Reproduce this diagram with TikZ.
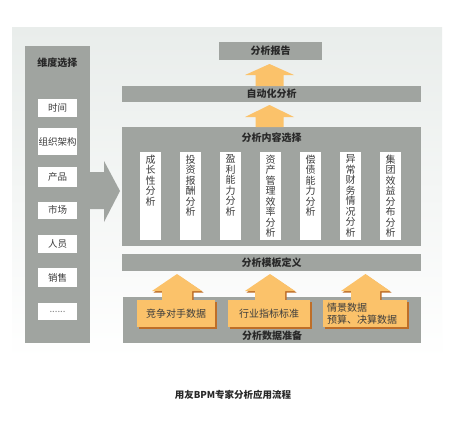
\documentclass[tikz,border=0pt]{standalone}
\usepackage{fontspec}
\setmainfont{Noto Sans CJK SC}
\definecolor{panelgray}{RGB}{160,164,160}
\definecolor{bgtop}{RGB}{233,237,235}
\definecolor{orangefill}{RGB}{251,194,106}
\definecolor{orangeedge}{RGB}{190,110,40}
\definecolor{txt}{RGB}{40,40,40}
\definecolor{coltxt}{RGB}{60,60,60}
\newcommand\myuparrow[7]{\fill[#7] (#1-#6,#4) -- (#1-#6,#3) -- (#1-#5,#3) -- (#1,#2) -- (#1+#5,#3) -- (#1+#6,#3) -- (#1+#6,#4) -- cycle;}
\begin{document}
\begin{tikzpicture}[x=1pt,y=-1pt,
  graybox/.style={fill=panelgray, draw=none, inner sep=0pt},
  whitebox/.style={fill=white, draw=none, inner sep=0pt, minimum width=39pt, text=coltxt, font=\fontsize{9.5}{10}\selectfont},
  titletext/.style={font=\bfseries\fontsize{10}{11}\selectfont, text=txt, inner sep=0pt},
  colbox/.style={fill=white, draw=none, inner sep=0pt, minimum width=21pt, minimum height=88pt},
  coltext/.style={font=\fontsize{10}{10.5}\selectfont, text=coltxt, align=center, anchor=north, inner sep=0pt},
  orangebox/.style={fill=orangefill, draw=none, inner sep=0pt, minimum height=27pt, text=coltxt, font=\fontsize{10}{12}\selectfont},
  shadowbox/.style={fill=orangeedge, draw=none, inner sep=0pt, minimum height=27pt}
]
\useasboundingbox (0,0) rectangle (450,423);
\fill[white] (0,0) rectangle (450,423);
% background panel
\shade[top color=bgtop, bottom color=white] (12,27) rectangle (442,360);

% left dimension column
\node[graybox, minimum width=65pt, minimum height=297pt] (dimcol) at (57.5,194.5) {};
\node[titletext] (dimtitle) at (57.5,63) {维度选择};
\node[whitebox, minimum height=18pt] (d1) at (57.5,108) {时间};
\node[whitebox, minimum height=27pt] (d2) at (57.5,141.5) {组织架构};
\node[whitebox, minimum height=20pt] (d3) at (57.5,177) {产品};
\node[whitebox, minimum height=17pt] (d4) at (57.5,210) {市场};
\node[whitebox, minimum height=18pt] (d5) at (57.5,244) {人员};
\node[whitebox, minimum height=19pt] (d6) at (57.5,277.5) {销售};
\node[whitebox, minimum height=17pt, text=gray] (d7) at (57.5,311.5) {......};

% big gray arrow
\fill[panelgray] (89,172) -- (104,172) -- (104,161) -- (120,191) -- (104,222) -- (104,209) -- (89,209) -- cycle;

% right stack
\node[graybox, minimum width=103pt, minimum height=18pt] (report) at (270.5,51) {};
\node[titletext] (reporttext) at (report) {分析报告};
\node[graybox, minimum width=299pt, minimum height=16pt] (auto) at (271.5,94) {};
\node[titletext] (autotext) at (auto) {自动化分析};
\node[graybox, minimum width=299pt, minimum height=119pt] (content) at (271.5,186.5) {};
\node[titletext] (contenttext) at (271.5,137.5) {分析内容选择};
\node[graybox, minimum width=299pt, minimum height=17pt] (template) at (271.5,262.5) {};
\node[titletext] (templatetext) at (template) {分析模板定义};
\node[graybox, minimum width=298pt, minimum height=46pt] (data) at (272,320) {};
\node[titletext] (datatext) at (272,336) {分析数据准备};

% top orange arrows
\myuparrow{269.5}{64}{75}{86}{24.5}{14}{orangefill}
\myuparrow{269.5}{105}{117}{127}{24.5}{14}{orangefill}

% content columns
\foreach \i/\t in {0/{成\\长\\性\\分\\析},1/{投\\资\\报\\酬\\分\\析},2/{盈\\利\\能\\力\\分\\析},3/{资\\产\\管\\理\\效\\率\\分\\析},4/{偿\\债\\能\\力\\分\\析},5/{异\\常\\财\\务\\情\\况\\分\\析},6/{集\\团\\效\\益\\分\\布\\分\\析}}{
  \node[colbox] (col\i) at (150.5+40*\i,196) {};
  \node[coltext] (coltext\i) at (150.5+40*\i,154.5) {\t};
}

% bottom orange arrows with shadow
\myuparrow{178.5}{275.5}{292.5}{301}{25}{15}{orangeedge}
\myuparrow{177}{274}{291}{301}{25}{15}{orangefill}
\myuparrow{271.5}{275.5}{292.5}{301}{25}{15}{orangeedge}
\myuparrow{270}{274}{291}{301}{25}{15}{orangefill}
\myuparrow{367}{275.5}{292.5}{301}{24.5}{14.5}{orangeedge}
\myuparrow{365.5}{274}{291}{301}{24.5}{14.5}{orangefill}

% orange data boxes
\node[shadowbox, minimum width=78pt] (s1) at (177.5,315) {};
\node[orangebox, minimum width=78pt] (o1) at (176,313.5) {竞争对手数据};
\node[shadowbox, minimum width=82pt] (s2) at (270.5,315) {};
\node[orangebox, minimum width=82pt] (o2) at (269,313.5) {行业指标标准};
\node[shadowbox, minimum width=84pt] (s3) at (366.5,315) {};
\node[orangebox, minimum width=84pt, align=left, text width=76pt] (o3) at (365,313.5) {情景数据\\预算、决算数据};

% caption
\node[font=\bfseries\fontsize{9.5}{11}\selectfont, text=txt] (caption) at (233,395) {用友BPM专家分析应用流程};
\end{tikzpicture}
\end{document}
